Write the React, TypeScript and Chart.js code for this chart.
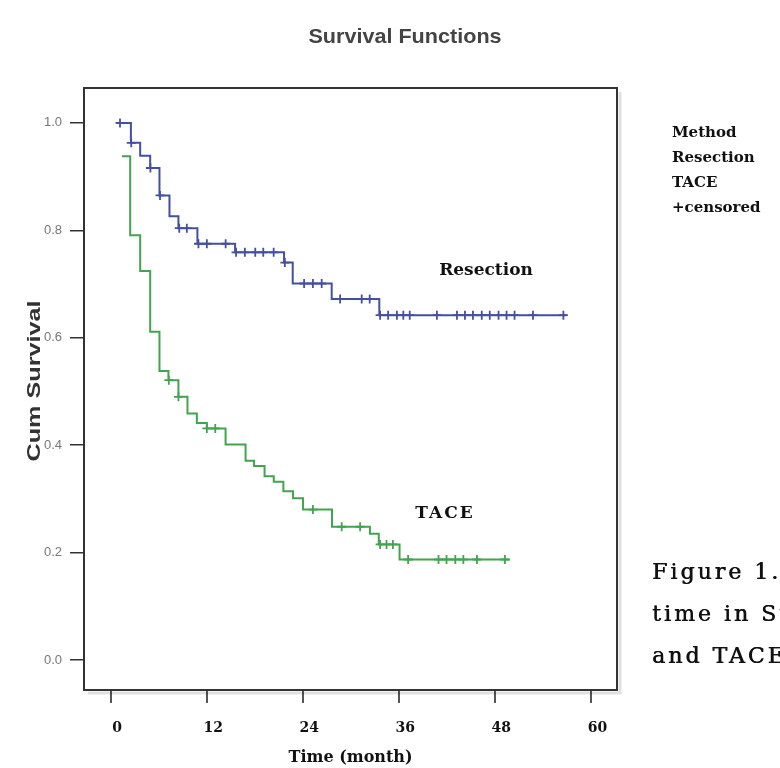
import { useEffect, useRef } from "react";
import { Chart, registerables } from "chart.js";

Chart.register(...registerables);

const xTickValues = [0, 12, 24, 36, 48, 60];
const yTickValues = [0, 0.2, 0.4, 0.6, 0.8, 1.0];

const resectionTimes = [0.7, 2.46, 3.62, 4.87, 6.03, 7.28, 8.4, 10.77, 15.48, 21.6, 22.68, 27.55, 33.5, 56.9];
const resectionSurvival = [1.0, 0.963, 0.939, 0.916, 0.865, 0.826, 0.804, 0.775, 0.759, 0.74, 0.701, 0.672, 0.642, 0.642];

const resectionCensorTimes = [1.1, 2.5, 4.9, 6.1, 8.5, 9.45, 10.9, 11.95, 14.3, 15.6, 16.7, 18.0, 19.0, 20.3, 21.7, 24.1, 25.2, 26.3, 28.6, 31.3, 32.3, 33.6, 34.6, 35.7, 36.5, 37.3, 40.7, 43.2, 44.2, 45.2, 46.3, 47.3, 48.4, 49.4, 50.4, 52.7, 56.5];
const resectionCensorSurvival = [1.0, 0.963, 0.916, 0.865, 0.804, 0.804, 0.775, 0.775, 0.775, 0.759, 0.759, 0.759, 0.759, 0.759, 0.74, 0.701, 0.701, 0.701, 0.672, 0.672, 0.672, 0.642, 0.642, 0.642, 0.642, 0.642, 0.642, 0.642, 0.642, 0.642, 0.642, 0.642, 0.642, 0.642, 0.642, 0.642, 0.642];

const taceTimes = [1.34, 2.37, 3.62, 4.87, 6.03, 7.15, 8.4, 9.53, 10.7, 11.95, 14.29, 16.79, 17.85, 19.16, 20.31, 21.51, 22.72, 23.97, 27.59, 32.33, 33.43, 36.03, 49.8];
const taceSurvival = [0.938, 0.791, 0.724, 0.611, 0.538, 0.521, 0.49, 0.459, 0.441, 0.431, 0.401, 0.371, 0.361, 0.342, 0.332, 0.314, 0.301, 0.28, 0.248, 0.235, 0.215, 0.187, 0.187];

const taceCensorTimes = [7.2, 8.4, 11.95, 13.0, 25.2, 28.8, 31.1, 33.6, 34.4, 35.2, 37.1, 40.9, 41.9, 43.0, 44.0, 45.7, 49.2];
const taceCensorSurvival = [0.521, 0.49, 0.431, 0.431, 0.28, 0.248, 0.248, 0.215, 0.215, 0.215, 0.187, 0.187, 0.187, 0.187, 0.187, 0.187, 0.187];

const chartTitle = "Survival Functions";
const yTitle = "Cum Survival";
const legendLines = ["Method", "Resection", "TACE", "+censored"];
const captionLines = ["Figure 1. Survival", "time in Surgical", "and TACE groups"];

const resectionColor = "#44509f";
const taceColor = "#43a34f";

function pts(xs: number[], ys: number[]) {
  return xs.map((x, i) => ({ x, y: ys[i] }));
}

export default function App() {
  const ref = useRef<HTMLCanvasElement>(null);

  useEffect(() => {
    const canvas = ref.current;
    if (!canvas) return;

    const overlay = {
      id: "overlay",
      afterDraw(chart: any) {
        const { ctx, chartArea: a } = chart;
        ctx.save();
        // soft shadow of the frame
        ctx.strokeStyle = "rgba(0,0,0,0.12)";
        ctx.lineWidth = 3;
        ctx.beginPath();
        ctx.moveTo(a.right + 3, a.top + 4);
        ctx.lineTo(a.right + 3, a.bottom + 3);
        ctx.lineTo(a.left + 4, a.bottom + 3);
        ctx.stroke();
        // frame
        ctx.strokeStyle = "#333";
        ctx.lineWidth = 2;
        ctx.strokeRect(a.left, a.top, a.right - a.left, a.bottom - a.top);

        // title
        ctx.fillStyle = "#444";
        ctx.textAlign = "center";
        ctx.textBaseline = "middle";
        ctx.save();
        ctx.translate(405, 38);
        ctx.scale(1.2, 1.1);
        ctx.font = 'bold 18px "Liberation Sans", Arial, sans-serif';
        ctx.fillText(chartTitle, 0, 0);
        ctx.restore();

        // y-axis title, rotated and stretched along its baseline
        ctx.save();
        ctx.translate(35, (a.top + a.bottom) / 2 - 8);
        ctx.rotate(-Math.PI / 2);
        ctx.scale(1.4, 1);
        ctx.fillStyle = "#333";
        ctx.font = 'bold 18px "Liberation Sans", Arial, sans-serif';
        ctx.fillText(yTitle, 0, 0);
        ctx.restore();

        // curve labels
        ctx.fillStyle = "#111";
        ctx.font = 'bold 17px "DejaVu Serif", serif';
        ctx.fillText("Resection", 486, 271);
        (ctx as any).letterSpacing = "2px";
        ctx.fillText("TACE", 445, 514);
        (ctx as any).letterSpacing = "0px";

        // legend
        ctx.textAlign = "left";
        ctx.font = 'bold 15px "DejaVu Serif", serif';
        legendLines.forEach((t, i) => ctx.fillText(t, 672, 133 + i * 25));

        // caption
        ctx.font = '22px "DejaVu Serif", serif';
        ctx.fillStyle = "#111";
        (ctx as any).letterSpacing = "3px";
        captionLines.forEach((t, i) => {
          ctx.fillText(t, 652, 573 + i * 42);
          ctx.fillText(t, 652.6, 573 + i * 42);
        });
        ctx.restore();
      },
    };

    const chart = new Chart(canvas, {
      type: "line",
      data: {
        datasets: [
          {
            label: "Resection",
            data: pts(resectionTimes, resectionSurvival),
            stepped: true,
            borderColor: resectionColor,
            borderWidth: 2,
            pointRadius: 0,
            fill: false,
          },
          {
            label: "TACE",
            data: pts(taceTimes, taceSurvival),
            stepped: true,
            borderColor: taceColor,
            borderWidth: 2,
            pointRadius: 0,
            fill: false,
          },
          {
            label: "Resection censored",
            data: pts(resectionCensorTimes, resectionCensorSurvival),
            showLine: false,
            pointStyle: "cross",
            pointRadius: 4.5,
            pointBorderWidth: 1.8,
            pointBorderColor: resectionColor,
            borderColor: resectionColor,
          },
          {
            label: "TACE censored",
            data: pts(taceCensorTimes, taceCensorSurvival),
            showLine: false,
            pointStyle: "cross",
            pointRadius: 4.5,
            pointBorderWidth: 1.8,
            pointBorderColor: taceColor,
            borderColor: taceColor,
          },
        ],
      },
      options: {
        responsive: false,
        animation: false,
        layout: { padding: { top: 88, right: 163, left: 0, bottom: 0 } },
        plugins: {
          legend: { display: false },
          title: { display: false },
          tooltip: { enabled: false },
        },
        scales: {
          x: {
            type: "linear",
            min: -3.4,
            max: 63.2,
            afterBuildTicks: (s: any) => {
              s.ticks = xTickValues.map((v) => ({ value: v }));
            },
            afterFit: (s: any) => {
              s.height = 78;
            },
            ticks: {
              autoSkip: false,
              maxRotation: 0,
              padding: 17,
              labelOffset: 6,
              color: "#111",
              font: { family: '"DejaVu Serif", serif', weight: "bold", size: 14 },
              callback: (v: any) => String(v),
            },
            grid: { drawOnChartArea: false, tickLength: 13, color: "#555", lineWidth: 2 },
            border: { display: false },
            title: {
              display: true,
              text: "Time (month)",
              color: "#111",
              font: { family: '"DejaVu Serif", serif', weight: "bold", size: 16 },
              padding: { top: 0, bottom: 1 },
            },
          },
          y: {
            type: "linear",
            min: -0.056,
            max: 1.065,
            afterBuildTicks: (s: any) => {
              s.ticks = yTickValues.map((v) => ({ value: v }));
            },
            afterFit: (s: any) => {
              s.width = 84;
            },
            ticks: {
              autoSkip: false,
              padding: 8,
              color: "#777",
              font: { family: '"Liberation Sans", Arial, sans-serif', size: 13 },
              callback: (v: any) => Number(v).toFixed(1),
            },
            grid: { drawOnChartArea: false, tickLength: 14, color: "#333", lineWidth: 1.5 },
            border: { display: false },
            title: { display: false },
          },
        },
      },
      plugins: [overlay],
    } as any);

    return () => chart.destroy();
  }, []);

  return (
    <div style={{ position: "fixed", left: 0, top: 0, width: 780, height: 768, background: "#fff" }}>
      <canvas ref={ref} width={780} height={768} />
    </div>
  );
}
